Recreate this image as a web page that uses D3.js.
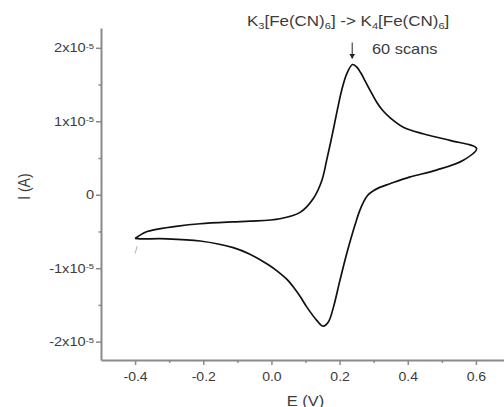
<!DOCTYPE html>
<html>
<head>
<meta charset="utf-8">
<script src="https://cdn.jsdelivr.net/npm/d3@7"></script>
<style>
  body { margin: 0; background: #fff; }
  svg { display: block; font-family: "Liberation Sans", Arial, sans-serif; }
</style>
</head>
<body>
<div id="chart"></div>
<script>
// potentials (V) and currents (x1e-5 A)
const forwardE = [-0.400, -0.370, -0.330, -0.280, -0.209, -0.113, -0.063, 0.025, 0.084, 0.123, 0.148, 0.162,
  0.177, 0.191, 0.206, 0.221, 0.238, 0.250, 0.262, 0.276, 0.292, 0.309, 0.328, 0.348, 0.387, 0.445, 0.524, 0.602];
const forwardI = [-0.595, -0.51, -0.465, -0.43, -0.395, -0.37, -0.36, -0.327, -0.24, -0.05, 0.195, 0.467,
  0.784, 1.10, 1.42, 1.646, 1.773, 1.74, 1.66, 1.54, 1.40, 1.26, 1.14, 1.05, 0.92, 0.83, 0.74, 0.63];
const reverseE = [0.602, 0.563, 0.484, 0.405, 0.348, 0.318, 0.298, 0.282, 0.270, 0.258, 0.248, 0.238,
  0.221, 0.201, 0.182, 0.167, 0.152, 0.133, 0.104, 0.085, 0.065, 0.045, 0.020, -0.010, -0.063, -0.112,
  -0.209, -0.307, -0.385, -0.400];
const reverseI = [0.63, 0.47, 0.335, 0.24, 0.15, 0.10, 0.05, -0.01, -0.10, -0.23, -0.37, -0.52,
  -0.80, -1.166, -1.53, -1.733, -1.79, -1.71, -1.53, -1.39, -1.26, -1.15, -1.05, -0.95, -0.81, -0.72,
  -0.63, -0.60, -0.60, -0.595];
const startE = [-0.400, -0.394];
const startI = [-0.80, -0.70];

const xTicks = [-0.4, -0.2, 0.0, 0.2, 0.4, 0.6];
const xMinorTicks = [-0.3, -0.1, 0.1, 0.3, 0.5];
const yTicks = [-2, -1, 0, 1, 2];
const yMinorTicks = [-1.5, -0.5, 0.5, 1.5];
const peakE = 0.237;
const peakI = 1.80;

const width = 504;
const height = 407;
const stretch = 1.17;   // type in the source looks horizontally widened
const axisColor = '#8a8a8a';
const textColor = '#3c3c3c';

const x = d3.scaleLinear().domain([-0.5, 0.7]).range([101, 510]);
const y = d3.scaleLinear().domain([-2.25, 2.27]).range([360, 28]);

const svg = d3.select('#chart')
  .append('svg')
  .attr('width', width)
  .attr('height', height);

// axes
const xAxis = svg.append('g')
  .attr('transform', `translate(0,${y.range()[0]})`)
  .call(d3.axisBottom(x).tickValues(xTicks).tickSize(5).tickPadding(7).tickSizeOuter(0)
    .tickFormat(d3.format('.1f')));

svg.append('g')
  .attr('transform', `translate(0,${y.range()[0]})`)
  .call(d3.axisBottom(x).tickValues(xMinorTicks).tickSize(3).tickSizeOuter(0).tickFormat(''))
  .select('.domain').remove();

const yAxis = svg.append('g')
  .attr('transform', `translate(${x.range()[0]},0)`)
  .call(d3.axisLeft(y).tickValues(yTicks).tickSize(5).tickPadding(2).tickSizeOuter(0));

svg.append('g')
  .attr('transform', `translate(${x.range()[0]},0)`)
  .call(d3.axisLeft(y).tickValues(yMinorTicks).tickSize(2.5).tickSizeOuter(0).tickFormat(''))
  .select('.domain').remove();

svg.selectAll('.domain').attr('stroke', axisColor).attr('stroke-width', 2);
svg.selectAll('.tick line').attr('stroke', axisColor).attr('stroke-width', 1.5);

xAxis.selectAll('.tick text')
  .attr('fill', textColor)
  .style('font-size', '12px')
  .attr('transform', `scale(${stretch},1)`)
  .text(d => (d < 0 ? '-' : '') + d3.format('.1f')(Math.abs(d)));

yAxis.selectAll('.tick text')
  .attr('fill', textColor)
  .style('font-size', '12.5px')
  .attr('x', -7 / stretch)
  .attr('transform', `scale(${stretch},1)`)
  .each(function (d) {
    const t = d3.select(this).text('');
    if (d === 0) { t.text('0'); return; }
    t.append('tspan').text(`${d}x10`);
    t.append('tspan').attr('dy', '-0.45em').style('font-size', '8px').text('-5');
  });

xAxis.attr('font-family', null);
yAxis.attr('font-family', null);

// axis titles
svg.append('text')
  .attr('transform', `translate(${(x(-0.5) + x(0.7)) / 2},406) scale(${stretch},1)`)
  .attr('text-anchor', 'middle')
  .attr('fill', textColor)
  .style('font-size', '14px')
  .text('E (V)');

svg.append('text')
  .attr('transform', `translate(30,${y(0.11)}) rotate(-90) scale(1,${stretch})`)
  .attr('text-anchor', 'middle')
  .attr('fill', textColor)
  .style('font-size', '14px')
  .text('I (A)');

// curves
const line = d3.line()
  .x(d => x(d[0]))
  .y(d => y(d[1]))
  .curve(d3.curveCatmullRom.alpha(0.5));

const loop = forwardE.map((e, i) => [e, forwardI[i]])
  .concat(reverseE.slice(1).map((e, i) => [e, reverseI[i + 1]]));

svg.append('path')
  .datum(startE.map((e, i) => [e, startI[i]]))
  .attr('d', line)
  .attr('fill', 'none')
  .attr('stroke', '#b0b0b0')
  .attr('stroke-width', 1);

svg.append('path')
  .datum(loop)
  .attr('d', line)
  .attr('fill', 'none')
  .attr('stroke', '#111')
  .attr('stroke-width', 1.7)
  .attr('stroke-linejoin', 'round');

// annotation
const title = svg.append('text')
  .attr('transform', `translate(247,26) scale(${stretch},1)`)
  .attr('fill', textColor)
  .style('font-size', '14.5px');
[['K', ''], ['3', 'sub'], ['[Fe(CN)', ''], ['6', 'sub'], ['] -> K', ''], ['4', 'sub'],
  ['[Fe(CN)', ''], ['6', 'sub'], [']', '']].forEach(([s, kind], i) => {
  const t = title.append('tspan').text(s);
  if (kind === 'sub') t.style('font-size', '9.5px').attr('dy', '3');
  else if (i > 0) t.attr('dy', '-3');
});

svg.append('text')
  .attr('transform', `translate(372,54) scale(${stretch},1)`)
  .attr('fill', textColor)
  .style('font-size', '14px')
  .text('60 scans');

svg.append('line')
  .attr('x1', x(peakE)).attr('x2', x(peakE))
  .attr('y1', y(peakI) - 20).attr('y2', y(peakI) - 4)
  .attr('stroke', '#222')
  .attr('stroke-width', 1);

svg.append('path')
  .attr('d', d3.symbol(d3.symbolTriangle, 14)())
  .attr('transform', `translate(${x(peakE)},${y(peakI) - 7}) rotate(180)`)
  .attr('fill', '#222');
</script>
</body>
</html>
